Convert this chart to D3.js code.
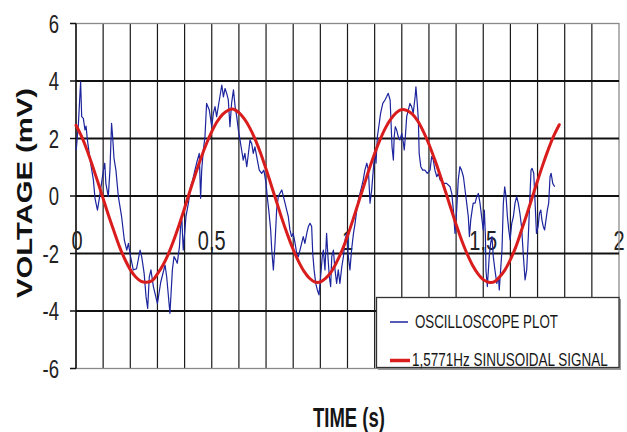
<!DOCTYPE html>
<html><head><meta charset="utf-8">
<script src="https://cdn.jsdelivr.net/npm/d3@7"></script>
<style>html,body{margin:0;padding:0;background:#fff;}svg{display:block;}</style>
</head><body>
<svg id="c" width="627" height="432"></svg>
<script>
const xTickValues = [0, 0.5, 1, 1.5, 2];
const xTickLabels = ["0", "0,5", "1", "1,5", "2"];
const yTickValues = [-6, -4, -2, 0, 2, 4, 6];
const yTickLabels = ["-6", "-4", "-2", "0", "2", "4", "6"];
const seriesNames = ["OSCILLOSCOPE PLOT", "1,5771Hz SINUSOIDAL SIGNAL"];
const xTitle = "TIME (s)";
const yTitle = "VOLTAGE (mV)";

const blueTime = [0.000,0.002,0.009,0.017,0.021,0.027,0.033,0.037,0.042,0.052,0.064,0.070,0.079,0.086,0.101,0.106,0.110,0.119,0.125,0.131,0.135,0.140,0.147,0.156,0.168,0.178,0.187,0.193,0.201,0.211,0.223,0.236,0.242,0.251,0.258,0.264,0.270,0.276,0.285,0.300,0.312,0.328,0.334,0.346,0.355,0.361,0.368,0.373,0.381,0.386,0.390,0.395,0.401,0.405,0.414,0.422,0.430,0.438,0.447,0.454,0.459,0.463,0.469,0.475,0.481,0.491,0.500,0.506,0.512,0.518,0.528,0.537,0.543,0.549,0.555,0.561,0.567,0.573,0.580,0.586,0.592,0.598,0.604,0.610,0.616,0.622,0.629,0.635,0.641,0.647,0.653,0.659,0.668,0.675,0.684,0.692,0.700,0.705,0.710,0.717,0.721,0.727,0.733,0.739,0.745,0.751,0.758,0.764,0.770,0.776,0.782,0.788,0.794,0.800,0.807,0.813,0.819,0.825,0.831,0.837,0.843,0.850,0.856,0.862,0.868,0.872,0.877,0.883,0.889,0.895,0.901,0.907,0.911,0.917,0.923,0.928,0.933,0.938,0.942,0.948,0.954,0.960,0.966,0.972,0.979,0.985,0.991,0.997,1.003,1.009,1.015,1.022,1.028,1.034,1.040,1.046,1.052,1.058,1.064,1.071,1.077,1.083,1.089,1.095,1.101,1.105,1.110,1.117,1.122,1.130,1.138,1.144,1.150,1.157,1.160,1.164,1.169,1.172,1.176,1.181,1.187,1.193,1.200,1.206,1.209,1.213,1.218,1.224,1.230,1.236,1.242,1.249,1.252,1.257,1.261,1.264,1.270,1.277,1.285,1.294,1.304,1.310,1.316,1.322,1.329,1.335,1.341,1.353,1.365,1.378,1.384,1.390,1.396,1.402,1.408,1.414,1.420,1.427,1.433,1.439,1.445,1.449,1.454,1.459,1.463,1.470,1.476,1.482,1.488,1.494,1.500,1.504,1.508,1.510,1.515,1.519,1.522,1.527,1.532,1.537,1.543,1.550,1.556,1.559,1.564,1.569,1.574,1.579,1.584,1.589,1.594,1.599,1.605,1.611,1.617,1.623,1.629,1.635,1.641,1.648,1.654,1.660,1.666,1.672,1.676,1.680,1.686,1.691,1.696,1.702,1.707,1.712,1.716,1.721,1.726,1.731,1.736,1.741,1.746,1.750,1.756,1.763];
const blueVolt = [1.60,1.72,2.53,3.98,2.76,2.70,2.30,2.43,1.95,1.25,0.56,-0.08,-0.49,-0.08,0.90,1.14,0.44,-0.02,0.90,2.53,2.06,1.31,0.90,-0.02,-0.72,-1.53,-1.88,-1.65,-2.11,-2.57,-2.53,-1.88,-2.11,-2.69,-3.50,-3.91,-2.81,-2.57,-3.15,-3.74,-3.00,-2.40,-2.81,-4.08,-2.57,-2.11,-2.23,-2.34,-1.76,-0.95,-0.83,-1.88,-1.18,-0.72,-0.25,0.32,0.56,0.90,1.25,1.48,-0.08,0.90,1.60,2.06,3.22,2.99,2.41,2.88,3.11,2.76,3.34,3.86,3.45,3.74,3.57,3.34,2.41,3.22,3.69,3.11,2.76,2.30,1.95,1.60,1.25,1.48,1.02,1.48,1.95,1.83,1.48,1.71,1.25,0.90,0.79,0.90,0.44,-0.08,-0.49,-1.18,-1.88,-2.57,-1.65,-0.49,-0.02,0.09,0.21,-0.02,-0.25,-0.49,-0.72,-1.18,-1.41,-1.30,-1.65,-2.00,-2.11,-1.88,-1.65,-1.41,-1.65,-1.30,-1.06,-0.95,-1.06,-2.00,-2.57,-3.04,-3.27,-3.44,-2.81,-2.11,-1.88,-2.57,-1.30,-2.11,-2.81,-3.15,-2.11,-1.88,-2.57,-3.04,-2.57,-3.04,-2.46,-2.11,-1.53,-1.30,-2.11,-2.57,-1.88,-1.30,-0.95,-0.49,-0.14,0.09,0.32,0.56,0.90,1.14,0.90,-0.25,0.21,0.90,1.60,1.14,2.06,2.53,2.88,3.22,3.34,3.45,3.57,3.34,2.64,1.71,1.25,2.06,2.41,2.30,2.06,1.95,2.18,1.83,1.60,2.06,2.76,2.99,3.22,3.11,2.88,3.45,3.80,3.22,2.64,1.48,1.02,0.90,0.90,0.79,0.90,1.37,1.25,0.90,0.67,0.79,0.56,0.44,0.44,0.32,0.09,-0.49,-1.30,-0.49,0.56,1.02,0.90,0.67,0.21,-0.25,-0.72,-1.41,-0.83,-0.49,-0.25,-0.25,-0.02,0.09,-0.25,-0.72,-1.18,-0.49,-1.41,-2.57,-3.15,-2.57,-2.11,-1.65,-1.41,-2.11,-2.57,-3.04,-2.81,-3.27,-2.57,-1.88,-0.25,0.32,-0.02,-0.72,-1.18,-1.53,-0.95,-0.72,-0.25,-0.02,-0.25,-0.60,-1.06,-2.11,-2.92,-2.57,-1.41,-0.02,0.90,0.96,0.79,-0.25,-1.30,-1.06,-0.60,-0.49,-0.83,-1.06,-1.18,-0.83,-0.49,-0.25,0.67,0.79,0.44,0.32];

const redTime = [0.00,0.02,0.04,0.06,0.08,0.10,0.12,0.14,0.16,0.18,0.20,0.22,0.24,0.26,0.28,0.30,0.32,0.34,0.36,0.38,0.40,0.42,0.44,0.46,0.48,0.50,0.52,0.54,0.56,0.58,0.60,0.62,0.64,0.66,0.68,0.70,0.72,0.74,0.76,0.78,0.80,0.82,0.84,0.86,0.88,0.90,0.92,0.94,0.96,0.98,1.00,1.02,1.04,1.06,1.08,1.10,1.12,1.14,1.16,1.18,1.20,1.22,1.24,1.26,1.28,1.30,1.32,1.34,1.36,1.38,1.40,1.42,1.44,1.46,1.48,1.50,1.52,1.54,1.56,1.58,1.60,1.62,1.64,1.66,1.68,1.70,1.72,1.74,1.76,1.78];
const redVolt = [2.46,2.08,1.61,1.07,0.50,-0.09,-0.68,-1.23,-1.76,-2.20,-2.56,-2.82,-2.97,-3.00,-2.95,-2.71,-2.41,-2.02,-1.54,-1.00,-0.42,0.18,0.76,1.31,1.81,2.24,2.59,2.84,2.98,3.02,2.90,2.68,2.37,1.97,1.49,0.94,0.35,-0.24,-0.83,-1.37,-1.86,-2.28,-2.62,-2.86,-2.99,-2.99,-2.86,-2.64,-2.30,-1.89,-1.39,-0.83,-0.24,0.35,0.94,1.48,1.96,2.37,2.68,2.90,3.01,2.97,2.84,2.59,2.23,1.80,1.30,0.76,0.18,-0.41,-0.99,-1.53,-2.00,-2.40,-2.70,-2.91,-3.00,-2.99,-2.82,-2.57,-2.21,-1.77,-1.22,-0.65,-0.06,0.53,1.10,1.63,2.10,2.48];

const FONT = "Liberation Sans, Arial, sans-serif";
const svg = d3.select("#c");
svg.append("rect").attr("width", 627).attr("height", 432).attr("fill", "#fff");

const x = d3.scaleLinear().domain([0, 2]).range([76, 619]);
const y = d3.scaleLinear().domain([-6, 6]).range([368.5, 23.5]);

// text fitted horizontally to a target width by scaling glyphs
function fitText(parent, str, px, py, size, weight, target, anchor) {
  const g = parent.append("g");
  const t = g.append("text").attr("font-family", FONT).attr("font-size", size)
    .attr("font-weight", weight).attr("fill", "#161616").text(str);
  const w = t.node().getComputedTextLength();
  const s = target / w;
  const dx = anchor === "middle" ? -target / 2 : (anchor === "end" ? -target : 0);
  g.attr("transform", `translate(${px + dx},${py}) scale(${s},1)`);
  return g;
}

// x tick labels (under grid)
const xl = svg.append("g");
xTickValues.forEach((v, i) => {
  xl.append("g").attr("transform", `translate(${x(v) + (i === 0 ? 1 : 0)},250) scale(0.74,1)`)
    .append("text").attr("text-anchor", "middle")
    .attr("font-family", FONT).attr("font-size", 27)
    .attr("fill", "#222").text(xTickLabels[i]);
});

// vertical grid
const vg = d3.range(1, 20).map(i => i / 10);
svg.append("g").selectAll("line").data(vg).join("line")
  .attr("x1", d => x(d)).attr("x2", d => x(d))
  .attr("y1", y(6)).attr("y2", y(-6))
  .attr("stroke", "#1a1a1a").attr("stroke-width", 1.2);

// border
svg.append("rect").attr("x", x(0)).attr("y", y(6))
  .attr("width", x(2) - x(0)).attr("height", y(-6) - y(6))
  .attr("fill", "none").attr("stroke", "#8a8a8a").attr("stroke-width", 1.3);

// horizontal grid
svg.append("g").selectAll("line").data(yTickValues.filter(v => v > -6 && v < 6)).join("line")
  .attr("x1", x(0)).attr("x2", x(2))
  .attr("y1", d => y(d)).attr("y2", d => y(d))
  .attr("stroke", "#111").attr("stroke-width", 2);

// y axis line and ticks
svg.append("line").attr("x1", x(0)).attr("x2", x(0)).attr("y1", y(6)).attr("y2", y(-6))
  .attr("stroke", "#111").attr("stroke-width", 1.5);
svg.append("g").selectAll("line").data(yTickValues).join("line")
  .attr("x1", x(0) - 6).attr("x2", x(0))
  .attr("y1", d => y(d)).attr("y2", d => y(d))
  .attr("stroke", "#111").attr("stroke-width", 1.5);

// y tick labels
yTickValues.forEach((v, i) => {
  svg.append("g").attr("transform", `translate(59,${y(v) + 9}) scale(0.74,1)`)
    .append("text").attr("text-anchor", "end")
    .attr("font-family", FONT).attr("font-size", 25)
    .attr("fill", "#222").text(yTickLabels[i]);
});

// series
const blue = blueTime.map((t, i) => [t, blueVolt[i]]);
const red = redTime.map((t, i) => [t, redVolt[i]]);
const line = d3.line().x(d => x(d[0])).y(d => y(d[1]));
svg.append("path").datum(blue).attr("d", line)
  .attr("fill", "none").attr("stroke", "#1c249e").attr("stroke-width", 1.2)
  .attr("stroke-linejoin", "round");
svg.append("path").datum(red).attr("d", d3.line().curve(d3.curveCatmullRom).x(d => x(d[0])).y(d => y(d[1])))
  .attr("fill", "none").attr("stroke", "#d91c1c").attr("stroke-width", 3)
  .attr("stroke-linejoin", "round").attr("stroke-linecap", "round");

// legend
const lg = svg.append("g");
lg.append("rect").attr("x", 378).attr("y", 299).attr("width", 243).attr("height", 71).attr("fill", "#999");
lg.append("rect").attr("x", 376.5).attr("y", 297.5).attr("width", 242.5).attr("height", 70)
  .attr("fill", "#fff").attr("stroke", "#333").attr("stroke-width", 1.3);
lg.append("line").attr("x1", 390).attr("x2", 408).attr("y1", 322).attr("y2", 322)
  .attr("stroke", "#1c249e").attr("stroke-width", 1.5);
lg.append("line").attr("x1", 390).attr("x2", 410).attr("y1", 360.5).attr("y2", 360.5)
  .attr("stroke", "#d91c1c").attr("stroke-width", 3.5);
fitText(lg, seriesNames[0], 415, 327.5, 17.5, "normal", 143, "start");
fitText(lg, seriesNames[1], 412, 366, 17.5, "normal", 196, "start");

// axis titles
fitText(svg, xTitle, 313, 427, 27, "bold", 72, "start");
const yt = svg.append("g").attr("transform", "translate(32,298) rotate(-90) scale(1,0.82)");
const ytt = yt.append("text").attr("font-family", FONT).attr("font-weight", "bold")
  .attr("font-size", 28).attr("fill", "#111").text(yTitle);
const yw = ytt.node().getComputedTextLength();
ytt.attr("textLength", 210).attr("lengthAdjust", "spacingAndGlyphs");
</script>
</body></html>
